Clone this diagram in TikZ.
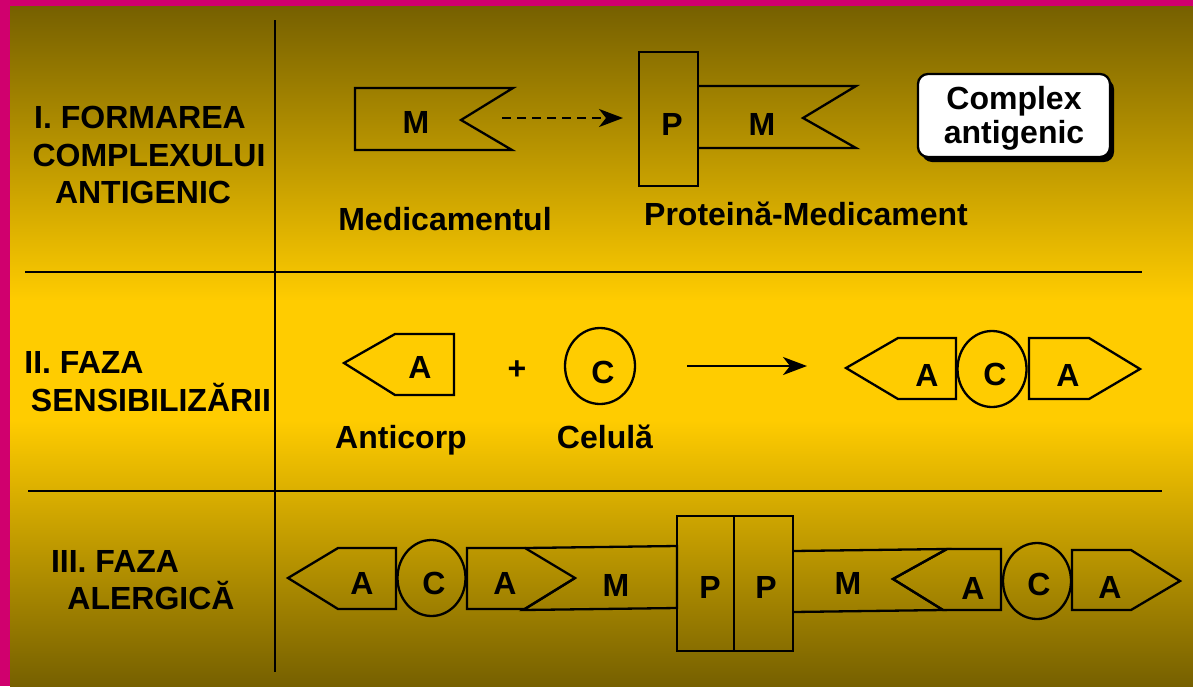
\documentclass[tikz,border=0pt]{standalone}
\usepackage{fontspec}
\setmainfont{Liberation Sans}
\usetikzlibrary{arrows.meta,shadows,shapes.geometric}
\definecolor{rim}{RGB}{208,0,110}
\definecolor{olive}{RGB}{118,96,0}
\definecolor{gold}{RGB}{255,204,0}
\tikzset{
  txt/.style={font=\fontsize{32}{38}\selectfont\bfseries, inner sep=0pt, anchor=base},
  letter/.style={font=\fontsize{32}{38}\selectfont\bfseries, inner sep=0pt},
  outline/.style={draw=black, line width=2.3pt, line join=miter},
  divider/.style={draw=black, line width=2.3pt},
  cell/.style={draw=black, line width=2.3pt, ellipse, inner sep=0pt, minimum width=70pt, minimum height=76pt},
  conn/.style={line width=2.3pt, -{Stealth[length=24pt,width=18pt,inset=7pt]}},
}
\begin{document}
\begin{tikzpicture}[x=1pt,y=-1pt]
\useasboundingbox (0,0) rectangle (1193,686);
\fill[rim] (0,0) rectangle (1193,686);
\shade[top color=olive, bottom color=gold] (10,6) rectangle (1193,301);
\fill[gold] (10,300) rectangle (1193,421);
\shade[top color=gold, bottom color=olive] (10,420) rectangle (1193,686);

% dividers
\draw[divider] (275,20) -- (275,672);
\draw[divider] (25,272) -- (1142,272);
\draw[divider] (28,491) -- (1162,491);

% section titles
\node[txt] (t1a) at (140,128) {I. FORMAREA};
\node[txt] (t1b) at (149,166) {COMPLEXULUI};
\node[txt] (t1c) at (143,203) {ANTIGENIC};
\node[txt] (t2a) at (84,373) {II. FAZA};
\node[txt] (t2b) at (151,411) {SENSIBILIZĂRII};
\node[txt] (t3a) at (115,572) {III. FAZA};
\node[txt] (t3b) at (151,609) {ALERGICĂ};

% ---- Section I ----
\draw[outline] (355,88) -- (513,88) -- (461,120) -- (512,150) -- (355,150) -- cycle;
\node[letter] (m1) at (416,122) {M};
\draw[outline] (639,52) rectangle (698,186);
\node[letter] (p1) at (672,124) {P};
\draw[outline] (698,86) -- (856,86) -- (803,118) -- (856,148) -- (698,148);
\node[letter] (m2) at (762,124) {M};
\coordinate (d1) at (502,118);
\coordinate (d2) at (623,118);
\draw[conn, dash pattern=on 9pt off 6pt] (d1) -- (d2);
\node[txt] (lmed) at (445,230) {Medicamentul};
\node[txt] (lpm) at (806,225) {Proteină-Medicament};
\node[draw=black, line width=2.3pt, fill=white, rounded corners=10pt,
      minimum width=192pt, minimum height=83pt, inner sep=0pt, align=center,
      drop shadow={shadow xshift=4pt, shadow yshift=-5pt, fill=black, opacity=1},
      font=\fontsize{32}{34}\selectfont\bfseries] (cx) at (1014,115.5) {\rule{0pt}{29pt}Complex\\antigenic};

% ---- Section II ----
\draw[outline] (344,363) -- (395,334) -- (454,334) -- (454,395) -- (395,395) -- cycle;
\node[letter] (a1) at (420,367) {A};
\node[letter] (plus) at (517,370) {+};
\node[cell] (c1) at (600,366) {};
\node[letter] (c1l) at (603,372) {C};
\node[txt] (lant) at (401,448) {Anticorp};
\node[txt] (lcel) at (605,448) {Celulă};
\coordinate (s1) at (687,366);
\coordinate (s2) at (807,366);
\draw[conn] (s1) -- (s2);
\draw[outline] (846,368) -- (898,338) -- (956,338) -- (956,399) -- (898,399) -- cycle;
\node[letter] (a2) at (927,375) {A};
\node[cell, minimum width=69pt] (c2) at (992,369) {};
\node[letter] (c2l) at (995,374) {C};
\draw[outline] (1029,338) -- (1089,338) -- (1140,369) -- (1089,399) -- (1029,399) -- cycle;
\node[letter] (a3) at (1068,375) {A};

% ---- Section III ----
\draw[outline] (288,578) -- (338,548) -- (396,548) -- (396,609) -- (338,609) -- cycle;
\node[letter] (a4) at (362,583) {A};
\node[cell, minimum width=68pt] (c3) at (431.5,578) {};
\node[letter] (c3l) at (434,583) {C};
\draw[outline] (467,548) -- (525,548) -- (575,578) -- (525,609) -- (467,609) -- cycle;
\node[letter] (a5) at (505,583) {A};
\draw[outline] (525,548) -- (677,546) -- (677,608) -- (523,610) -- (575,578);
\node[letter] (m3) at (616,585) {M};
\draw[outline] (677,516) rectangle (734,651);
\draw[outline] (734,516) rectangle (793,651);
\node[letter] (p2) at (710,587) {P};
\node[letter] (p3) at (766,587) {P};
\draw[outline] (793,551) -- (947,549) -- (893,579) -- (943,610) -- (793,612);
\node[letter] (m4) at (848,583) {M};
\draw[outline] (893,579) -- (947,549) -- (1001,549) -- (1001,610) -- (943,610) -- cycle;
\node[letter] (a6) at (973,588) {A};
\node[cell, minimum width=68pt] (c4) at (1037,581) {};
\node[letter] (c4l) at (1039,584) {C};
\draw[outline] (1072,550) -- (1131,550) -- (1180,581) -- (1131,610) -- (1072,610) -- cycle;
\node[letter] (a7) at (1110,587) {A};
\end{tikzpicture}
\end{document}
